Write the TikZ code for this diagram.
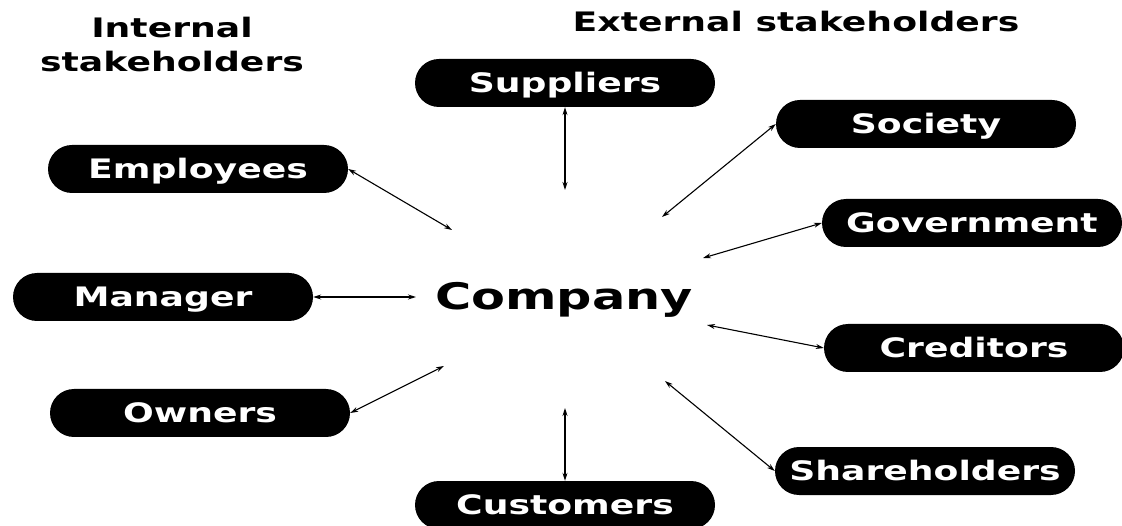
\documentclass[tikz,border=0pt]{standalone}
\usepackage{fontspec}
\newfontfamily\dvb[FakeStretch=1.35]{DejaVu Sans Bold}
\usetikzlibrary{arrows.meta}
\begin{document}
\begin{tikzpicture}[x=1pt,y=-1pt,
  stake/.style={fill=black,rounded corners=24pt,minimum width=300pt,minimum height=48pt,inner sep=0pt,
    text=white,font=\dvb\fontsize{26.8}{32}\selectfont,text height=19.5pt,text depth=0pt},
  title/.style={font=\dvb\fontsize{26.8}{34}\selectfont,align=center,inner sep=0pt},
  link/.style={line width=1.1pt,{Stealth[length=8pt,width=5pt]}-{Stealth[length=8pt,width=5pt]}}]
\useasboundingbox[fill=white] (0,0) rectangle (1122,526);
% titles
\node[title,anchor=base] (tint) at (172,72) {Internal\\stakeholders};
\node[title,anchor=base] (text) at (796,32) {External stakeholders};
% company
\node[font=\dvb\fontsize{36.6}{40}\selectfont,inner sep=0pt,text height=27pt,text depth=0pt] (comp) at (564,296) {Company};
% stakeholders
\node[stake] (sup) at (565,83) {Suppliers};
\node[stake] (soc) at (926,124) {Society};
\node[stake] (emp) at (198,169) {Employees};
\node[stake] (gov) at (972,223) {Government};
\node[stake] (man) at (163,297) {Manager};
\node[stake] (cred) at (974,348) {Creditors};
\node[stake] (own) at (200,413) {Owners};
\node[stake] (share) at (925,471) {Shareholders};
\node[stake] (cust) at (565,505) {Customers};
% free ends near company
\coordinate (cEmp) at (452,230);
\coordinate (cSup) at (565,190);
\coordinate (cSoc) at (662,217);
\coordinate (cGov) at (703,258);
\coordinate (cMan) at (416,297);
\coordinate (cCred) at (707,325);
\coordinate (cOwn) at (444,366);
\coordinate (cShare) at (665,381);
\coordinate (cCust) at (565,408);
% connectors
\draw[link] (emp.east) -- (cEmp);
\draw[link] (sup.south) -- (cSup);
\draw[link] (soc.west) -- (cSoc);
\draw[link] (gov.west) -- (cGov);
\draw[link] (man.east) -- (cMan);
\draw[link] (cred.west) -- (cCred);
\draw[link] (own.east) -- (cOwn);
\draw[link] (share.west) -- (cShare);
\draw[link] (cust.north) -- (cCust);
\end{tikzpicture}
\end{document}
